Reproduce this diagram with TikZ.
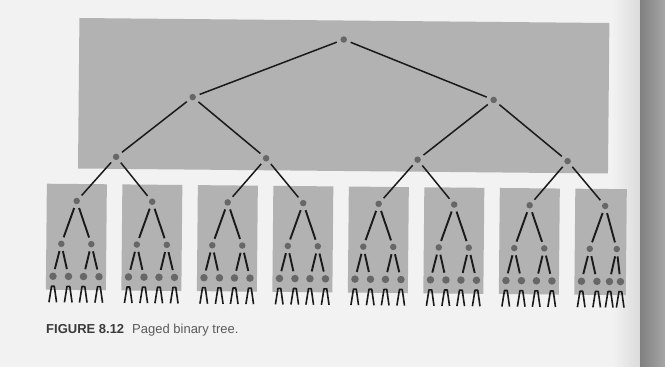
\documentclass[tikz,border=0pt]{standalone}
\usepackage{fontspec}
\setmainfont{Liberation Sans}
\definecolor{bg}{HTML}{F2F2F2}
\definecolor{pagegray}{HTML}{B2B2B2}
\definecolor{dotgray}{HTML}{676767}
\definecolor{edgecol}{HTML}{1A1A1A}
\definecolor{capdark}{HTML}{3A3A3A}
\definecolor{capgray}{HTML}{5A5A5A}
\definecolor{stripdark}{HTML}{808080}
\definecolor{striplight}{HTML}{A6A6A6}
\tikzset{
  dotnode/.style={circle, fill=dotgray, inner sep=0pt, minimum size=6.5pt},
  leafdot/.style={dotnode, minimum size=7.5pt},
  link/.style={draw=edgecol, line width=1.5pt, shorten <=4pt, shorten >=4pt},
  sublink/.style={draw=edgecol, line width=1.9pt, shorten <=4pt, shorten >=3.5pt},
  pagebox/.style={fill=pagegray, draw=none},
  prong/.style={draw=edgecol, line width=1.6pt, line join=round},
}
\begin{document}
\begin{tikzpicture}[x=1pt, y=-1pt]
\useasboundingbox (0,0) rectangle (665,367);
\fill[bg] (0,0) rectangle (665,367);
% page edge at the right
\shade[left color=bg, right color=bg!80!gray] (612,0) rectangle (640,367);
\shade[left color=stripdark, right color=striplight] (640,0) rectangle (665,367);

\begin{scope}[rotate around={-0.54:(78,170)}]
  % upper page
  \fill[pagebox] (78,18) rectangle (608,168.5);
  \node[dotnode] (r) at (342.5,37) {};
  \node[dotnode] (a1) at (192,96) {};
  \node[dotnode] (a2) at (493,96) {};
  \node[dotnode] (b1) at (116,156.5) {};
  \node[dotnode] (b2) at (266,156.5) {};
  \node[dotnode] (b3) at (417.5,156.5) {};
  \node[dotnode] (b4) at (567.5,156.5) {};
  \draw[link] (r) -- (a1);
  \draw[link] (r) -- (a2);
  \draw[link] (a1) -- (b1);
  \draw[link] (a1) -- (b2);
  \draw[link] (a2) -- (b3);
  \draw[link] (a2) -- (b4);

  % lower pages
  \foreach \i/\cx/\rr/\pl/\pr/\qa/\qb/\qc/\qd/\pn in {
      1/77/30/15/15/23/7.5/7.5/23/b1,
      2/152.5/30/15/15/23/7.5/7.5/23/b1,
      3/228/30/15/15/23/7.5/7.5/23/b2,
      4/303.5/30/15/15/23/7.5/7.5/23/b2,
      5/379/30/15/15/23/7.5/7.5/23/b3,
      6/454.5/30/15/15/23/7.5/7.5/23/b3,
      7/530/30/15/15/23/7.5/7.5/23/b4,
      8/605.5/21.5/15/12/23/7.5/5/16/b4} {
    \fill[pagebox] (\cx-30,184) rectangle (\cx+\rr,290);
    \node[dotnode] (c\i) at (\cx,201) {};
    \node[dotnode] (d\i a) at (\cx-\pl,244) {};
    \node[dotnode] (d\i b) at (\cx+\pr,244) {};
    \node[leafdot] (e\i a) at (\cx-\qa,276.5) {};
    \node[leafdot] (e\i b) at (\cx-\qb,276.5) {};
    \node[leafdot] (e\i c) at (\cx+\qc,276.5) {};
    \node[leafdot] (e\i d) at (\cx+\qd,276.5) {};
    \draw[link] (\pn) -- (c\i);
    \draw[sublink] (c\i) -- (d\i a);
    \draw[sublink] (c\i) -- (d\i b);
    \draw[sublink] (d\i a) -- (e\i a);
    \draw[sublink] (d\i a) -- (e\i b);
    \draw[sublink] (d\i b) -- (e\i c);
    \draw[sublink] (d\i b) -- (e\i d);
    \foreach \l in {a,b,c,d} {
      \draw[prong] ([shift={(-3.8,26)}]e\i\l.center) -- ([shift={(-1.4,10)}]e\i\l.center)
        -- ([shift={(1.4,10)}]e\i\l.center) -- ([shift={(3.8,26)}]e\i\l.center);
    }
  }
\end{scope}

\node[anchor=base west, inner sep=0pt, font=\fontsize{13}{15}\selectfont] (cap) at (46,333)
  {\textcolor{capdark}{\bfseries FIGURE 8.12}\hspace{8pt}\textcolor{capgray}{Paged binary tree.}};
\end{tikzpicture}
\end{document}
